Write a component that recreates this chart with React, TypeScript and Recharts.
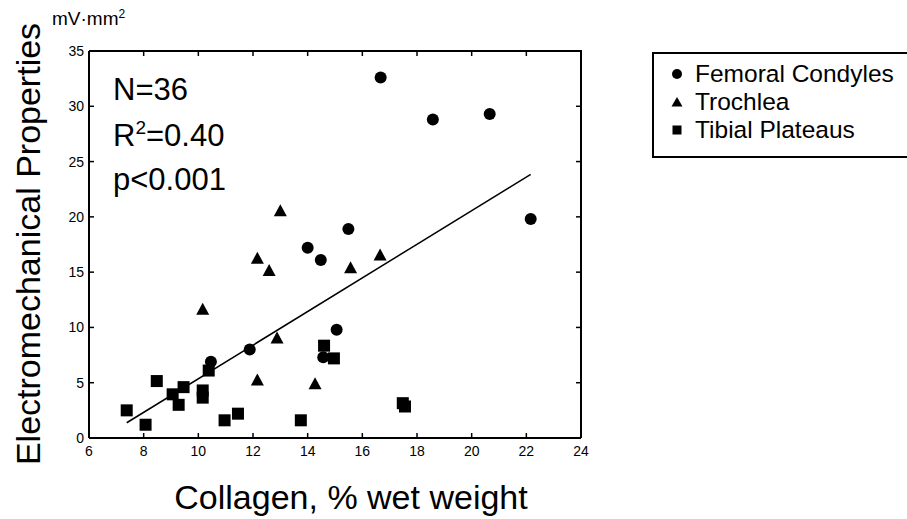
import React from "react";
import {
  ScatterChart,
  Scatter,
  XAxis,
  YAxis,
  Legend,
} from "recharts";

// collagen (% wet weight) vs electromechanical properties (mV·mm²)
const condylesX = [16.67, 18.58, 20.66, 22.16, 15.49, 14.0, 14.48, 11.88, 10.46, 15.06, 14.57];
const condylesY = [32.6, 28.8, 29.3, 19.8, 18.9, 17.2, 16.1, 8.0, 6.9, 9.8, 7.3];

const trochleaX = [13.0, 12.16, 12.59, 10.16, 12.88, 12.16, 14.27, 15.57, 16.65];
const trochleaY = [20.6, 16.3, 15.2, 11.7, 9.1, 5.3, 4.95, 15.45, 16.6];

const plateausX = [10.38, 8.48, 9.46, 9.06, 10.16, 10.16, 9.28, 7.38, 8.07, 10.96, 11.45, 13.75, 14.6, 14.96, 17.48, 17.56];
const plateausY = [6.1, 5.15, 4.6, 3.95, 4.3, 3.65, 3.0, 2.5, 1.2, 1.6, 2.2, 1.6, 8.35, 7.2, 3.15, 2.85];

const fitX = [7.38, 22.16];
const fitY = [1.38, 23.84];

const xTicks = [6, 8, 10, 12, 14, 16, 18, 20, 22, 24];
const yTicks = [0, 5, 10, 15, 20, 25, 30, 35];

const groups = ["Femoral Condyles", "Trochlea", "Tibial Plateaus"];
const stats = ["N=36", "R2=0.40", "p<0.001"];

const zip = (xs: number[], ys: number[]) => xs.map((x, i) => ({ x, y: ys[i] }));

const FONT = "'Liberation Sans', Arial, Helvetica, sans-serif";

// plot box from the chart margins / axis sizes
const MARGIN = { top: 51, right: 326, bottom: 51, left: 29 };
const Y_AXIS_W = 60;
const X_AXIS_H = 30;
const W = 907;
const H = 519;
const BOX = {
  left: MARGIN.left + Y_AXIS_W,
  top: MARGIN.top,
  right: W - MARGIN.right,
  bottom: H - MARGIN.bottom - X_AXIS_H,
};

const Circle = (p: any) => <circle cx={p.cx} cy={p.cy} r={6} fill="#000" />;
const Square = (p: any) => (
  <rect x={p.cx - 6} y={p.cy - 6} width={12} height={12} fill="#000" />
);
const Triangle = (p: any) => (
  <polygon
    points={`${p.cx},${p.cy - 6} ${p.cx + 6.5},${p.cy + 6} ${p.cx - 6.5},${p.cy + 6}`}
    fill="#000"
  />
);
const NoDot = () => <g />;

// top/right edges of the box with inward ticks, laid over the chart
function FrameOverlay() {
  const x0 = xTicks[0];
  const x1 = xTicks[xTicks.length - 1];
  const y1 = yTicks[yTicks.length - 1];
  const pw = BOX.right - BOX.left;
  const ph = BOX.bottom - BOX.top;
  return (
    <svg
      width={W}
      height={H}
      style={{ position: "absolute", left: 0, top: 0, pointerEvents: "none" }}
    >
      <g stroke="#000">
        <polyline
          points={`${BOX.left},${BOX.top} ${BOX.right},${BOX.top} ${BOX.right},${BOX.bottom}`}
          fill="none"
          strokeWidth={2}
        />
        {xTicks.slice(1, -1).map((t) => {
          const px = BOX.left + ((t - x0) / (x1 - x0)) * pw;
          return <line key={"tx" + t} x1={px} x2={px} y1={BOX.top} y2={BOX.top + 5} strokeWidth={1.5} />;
        })}
        {yTicks.slice(1, -1).map((t) => {
          const py = BOX.bottom - (t / y1) * ph;
          return <line key={"ty" + t} x1={BOX.right - 5} x2={BOX.right} y1={py} y2={py} strokeWidth={1.5} />;
        })}
      </g>
    </svg>
  );
}

function LegendIcon({ type }: { type: string }) {
  return (
    <svg width={12} height={12} style={{ marginRight: 12 }}>
      {type === "circle" && <circle cx={6} cy={6} r={5} fill="#000" />}
      {type === "triangle" && <polygon points="6,1 11.5,10.5 0.5,10.5" fill="#000" />}
      {type === "square" && <rect x={1.5} y={1.5} width={9} height={9} fill="#000" />}
    </svg>
  );
}

function renderLegend(props: any) {
  const items = (props.payload || [])
    .filter((e: any) => groups.includes(e.value))
    .sort((a: any, b: any) => groups.indexOf(a.value) - groups.indexOf(b.value));
  return (
    <div
      style={{
        border: "2px solid #000",
        width: 270,
        height: 106,
        boxSizing: "border-box",
        paddingTop: 6,
        paddingLeft: 17,
        fontFamily: FONT,
        fontSize: 24.5,
        color: "#000",
        background: "#fff",
      }}
    >
      {items.map((e: any) => (
        <div key={e.value} style={{ display: "flex", alignItems: "center", height: 28 }}>
          <LegendIcon type={e.type} />
          <span>{e.value}</span>
        </div>
      ))}
    </div>
  );
}

export default function App() {
  const axisStyle = { stroke: "#000", strokeWidth: 2 };
  const tickLine = { stroke: "#000", strokeWidth: 1.5 };
  const tickStyle = { fill: "#000", fontSize: 14, fontFamily: FONT };
  return (
    <div
      style={{
        position: "absolute",
        left: 0,
        top: 0,
        width: W,
        height: H,
        overflow: "hidden",
        background: "#fff",
        fontFamily: FONT,
      }}
    >
      <ScatterChart width={W} height={H} margin={MARGIN}>
        <XAxis
          type="number"
          dataKey="x"
          domain={[6, 24]}
          ticks={xTicks}
          height={X_AXIS_H}
          axisLine={axisStyle}
          tickLine={tickLine}
          tickSize={-5}
          tickMargin={13}
          tick={tickStyle}
        />
        <YAxis
          type="number"
          dataKey="y"
          domain={[0, 35]}
          ticks={yTicks}
          width={Y_AXIS_W}
          axisLine={axisStyle}
          tickLine={tickLine}
          tickSize={-5}
          tickMargin={10}
          tick={tickStyle}
        />
        <Legend
          layout="vertical"
          verticalAlign="middle"
          align="center"
          content={renderLegend}
          wrapperStyle={{ left: 652, top: 52, width: 270 }}
        />
        <Scatter
          name={groups[0]}
          data={zip(condylesX, condylesY)}
          legendType="circle"
          shape={Circle}
          isAnimationActive={false}
        />
        <Scatter
          name={groups[1]}
          data={zip(trochleaX, trochleaY)}
          legendType="triangle"
          shape={Triangle}
          isAnimationActive={false}
        />
        <Scatter
          name={groups[2]}
          data={zip(plateausX, plateausY)}
          legendType="square"
          shape={Square}
          isAnimationActive={false}
        />
        <Scatter
          name="fit"
          data={zip(fitX, fitY)}
          legendType="none"
          line={{ stroke: "#000", strokeWidth: 1.5 }}
          shape={NoDot}
          isAnimationActive={false}
        />
        <g fontFamily={FONT} fill="#000">
          <text x={113} y={100} fontSize={31}>{stats[0]}</text>
          <text x={113} y={146} fontSize={31}>
            R<tspan dy={-12} fontSize={19}>2</tspan>
            <tspan dy={12}>{stats[1].slice(2)}</tspan>
          </text>
          <text x={113} y={190} fontSize={31}>{stats[2]}</text>
          <text x={52} y={25} fontSize={19}>
            mV·mm<tspan dy={-7} fontSize={12}>2</tspan>
          </text>
          <text x={351} y={509} fontSize={34} textAnchor="middle">
            Collagen, % wet weight
          </text>
          <text
            x={40}
            y={244}
            fontSize={34}
            textAnchor="middle"
            transform="rotate(-90 40 244)"
          >
            Electromechanical Properties
          </text>
        </g>
      </ScatterChart>
      <FrameOverlay />
    </div>
  );
}
